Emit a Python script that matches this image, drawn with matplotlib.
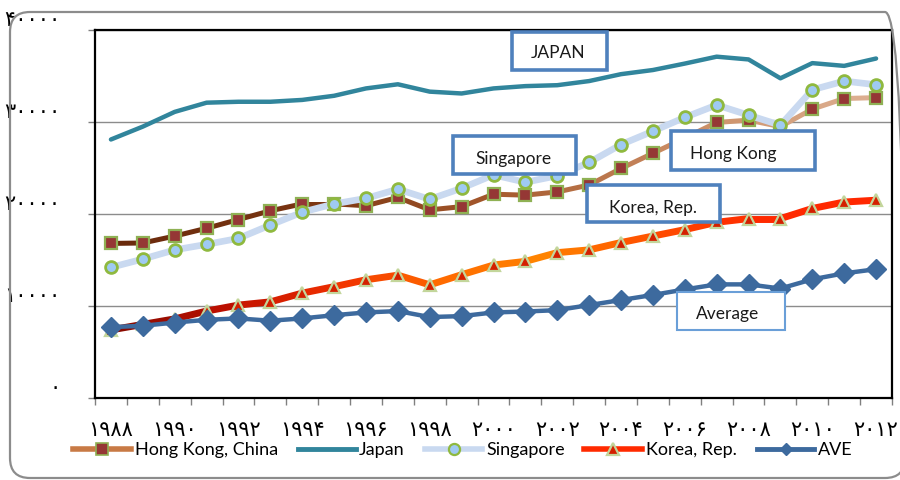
import matplotlib
matplotlib.use('Agg')
import matplotlib.pyplot as plt
import numpy as np
from matplotlib.collections import LineCollection
from matplotlib.colors import LinearSegmentedColormap
from matplotlib.lines import Line2D
from matplotlib.patches import Rectangle, FancyBboxPatch
from matplotlib.transforms import IdentityTransform

years = list(range(1988, 2013))
y_ticks = [0, 10000, 20000, 30000, 40000]

hong_kong = [16800, 16850, 17600, 18450, 19400, 20350, 21100, 21100, 20900, 21800, 20450, 20800,
             22150, 22050, 22400, 23150, 24950, 26600, 28250, 29950, 30200, 29500, 31400, 32550, 32650]
japan = [28100, 29500, 31100, 32100, 32200, 32200, 32400, 32850, 33650, 34100, 33300, 33100,
         33650, 33900, 34000, 34450, 35200, 35650, 36350, 37100, 36800, 34750, 36400, 36100, 36900]
singapore = [14200, 15100, 16100, 16700, 17350, 18800, 20200, 21100, 21700, 22700, 21600, 22800,
             24250, 23450, 24150, 25600, 27550, 29000, 30500, 31850, 30750, 29650, 33500, 34450, 34050]
korea = [7400, 8000, 8600, 9450, 10100, 10450, 11400, 12100, 12850, 13350, 12300, 13400,
         14450, 14850, 15800, 16100, 16900, 17600, 18300, 19100, 19500, 19500, 20600, 21300, 21500]
ave = [7700, 7850, 8200, 8500, 8650, 8400, 8650, 9000, 9300, 9450, 8800, 8900,
       9300, 9400, 9550, 10100, 10650, 11200, 11800, 12350, 12350, 11900, 12900, 13550, 14000]

names = ['Hong Kong, China', 'Japan', 'Singapore', 'Korea, Rep.', 'AVE']

fa = str.maketrans('0123456789', '۰۱۲۳۴۵۶۷۸۹')

W, H = 900, 480
fig = plt.figure(figsize=(9, 4.8), dpi=100)


def fx(x):
    return x / W


def fy(y):
    return 1 - y / H


# outer rounded frame (pixel coords)
fig.add_artist(FancyBboxPatch((10, H - 478), 895, 466,
                              boxstyle='round,pad=0,rounding_size=20',
                              transform=IdentityTransform(), fc='none', ec='#8c8c8c', lw=1.6))

ax = fig.add_axes([fx(95), fy(398), fx(892) - fx(95), fy(30) - fy(398)])
x = np.arange(len(years))


def grad_line(vals, colors, lw, z):
    pts = np.column_stack([x, vals])
    segs = np.stack([pts[:-1], pts[1:]], axis=1)
    cmap = LinearSegmentedColormap.from_list('g', colors)
    cols = cmap(np.linspace(0, 1, len(segs)))
    lc = LineCollection(segs, colors=cols, linewidths=lw, capstyle='round', joinstyle='round', zorder=z)
    ax.add_collection(lc)


# Hong Kong
grad_line(hong_kong, ['#6a2a0c', '#7a3512', '#a5582c', '#c98b62', '#dcae90'], 3.6, 3)
ax.plot(x, hong_kong, ls='none', marker='s', ms=8, mfc='#953735', mec='#8fb154', mew=1.6, zorder=4)
# Japan
ax.plot(x, japan, color='#31859c', lw=3.2, solid_capstyle='round', zorder=3)
# Singapore
ax.plot(x, singapore, color='#c9d9f0', lw=4.8, solid_capstyle='round', zorder=5)
ax.plot(x, singapore, ls='none', marker='o', ms=8.5, mfc='#9fcaf2', mec='#8fb93f', mew=2, zorder=6)
# Korea
grad_line(korea, ['#8a0a00', '#c01000', '#f03000', '#ff6a00', '#ff8400', '#ff5000', '#ff2a00', '#ff2800'], 5, 7)
ax.plot(x, korea, ls='none', marker='^', ms=8, mfc='#d42000', mec='#c3d69b', mew=1.6, zorder=8)
# AVE
ax.plot(x, ave, color='#3d6a9e', lw=3.2, marker='D', ms=10, mfc='#3d6a9e', mec='#3d6a9e', zorder=9)

ax.set_xlim(-0.5, len(years) - 0.5)
ax.set_ylim(0, 40000)

ax.set_yticks(y_ticks)
ax.set_yticklabels([str(v).translate(fa) for v in y_ticks], family='DejaVu Sans',
                   fontsize=15, va='bottom')
ax.tick_params(axis='y', length=5, width=1, color='#808080', pad=20)
ax.grid(axis='y', color='#8c8c8c', lw=1)
ax.set_axisbelow(True)

ax.set_xticks(x[::2])
ax.set_xticklabels([str(y).translate(fa) for y in years[::2]], family='DejaVu Sans', fontsize=15)
ax.set_xticks(np.arange(len(years) + 1) - 0.5, minor=True)
ax.tick_params(axis='x', which='major', length=0, pad=16)
ax.tick_params(axis='x', which='minor', length=5, width=1, color='#808080')

for s in ax.spines.values():
    s.set_color('black')
    s.set_linewidth(1.6)

# label boxes
boxes = [
    ('JAPAN', (512, 32, 607, 70), (558, 53), '#4f81bd', 2.6),
    ('Singapore', (453, 136, 576, 174), (513, 159), '#4f81bd', 2.6),
    ('Hong Kong', (671, 131, 815, 170), (733, 154), '#4f81bd', 2.6),
    ('Korea, Rep.', (587, 185, 720, 222), (653, 208), '#4f81bd', 2.6),
    ('Average', (677, 292, 785, 330), (728, 314), '#6a9fd8', 1.5),
]
for txt, (x0, y0, x1, y1), (tx, ty), ec, lw in boxes:
    fig.add_artist(Rectangle((fx(x0), fy(y1)), fx(x1) - fx(x0), fy(y0) - fy(y1),
                             transform=fig.transFigure, fc='white', ec=ec, lw=lw, zorder=20))
    fig.text(fx(tx), fy(ty), txt, ha='center', va='center', family='Lato', fontsize=12.5,
             color='#1a1a1a', zorder=21)

handles = [
    Line2D([], [], color='#c87a45', lw=4, marker='s', ms=8, mfc='#953735', mec='#8fb154', mew=1.2),
    Line2D([], [], color='#31859c', lw=3.5),
    Line2D([], [], color='#c9d9f0', lw=4, marker='o', ms=8, mfc='#9fcaf2', mec='#8fb93f', mew=1.6),
    Line2D([], [], color='#ff2a00', lw=4, marker='^', ms=8, mfc='#d42000', mec='#c3d69b', mew=1.6),
    Line2D([], [], color='#3d6a9e', lw=3.5, marker='D', ms=6, mfc='#3d6a9e', mec='#3d6a9e'),
]
fig.legend(handles, names, loc='center', bbox_to_anchor=(fx(463), fy(450)), ncol=5, frameon=False,
           prop={'family': 'Lato', 'size': 13}, handlelength=3.2, handletextpad=0.2,
           columnspacing=1.1, borderpad=0)

fig.savefig('out.png', dpi=100)
